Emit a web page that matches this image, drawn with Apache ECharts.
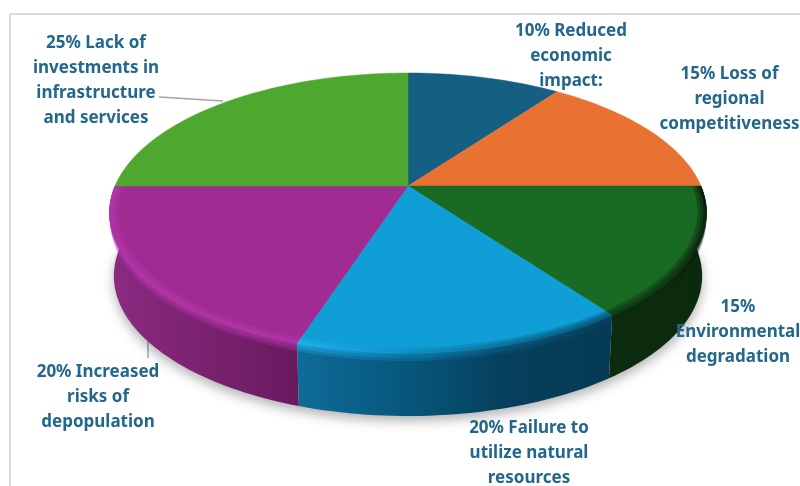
<!DOCTYPE html>
<html>
<head>
<meta charset="utf-8">
<style>html,body{margin:0;background:#fff}#chart{width:800px;height:486px}</style>
<script src="https://cdn.jsdelivr.net/npm/echarts@6/dist/echarts.min.js"></script>
</head>
<body>
<div id="chart"></div>
<script>
// shares the slices are actually drawn with, clockwise from 12 o'clock
const shares = [10, 15, 15, 15, 20, 25];
// the printed labels (the picture says 20% on the light blue slice, its angle says 15)
const labels = [
  "10% Reduced\neconomic\nimpact:",
  "15% Loss of\nregional\ncompetitiveness",
  "15%\nEnvironmental\ndegradation",
  "20% Failure to\nutilize natural\nresources",
  "20% Increased\nrisks of\ndepopulation",
  "25% Lack of\ninvestments in\ninfrastructure\nand services",
];
const topColors = ["#156082", "#e97132", "#196b24", "#0f9ed5", "#a02b93", "#4ea72e"];

// layout only
const labelPos = [[571, 56], [729.5, 99], [738, 332], [529, 453], [98, 397], [96, 80.5]];
// left to right colour stops of the front wall and of the bevel on its upper edge
const wallStops = {
  2: ["#0c2c0f", "#0b290d"],
  3: ["#0e6c99", "#07587e", "#063f5c", "#063a55"],
  4: ["#8c2a82", "#7a2270", "#681a5e"],
};
const rimStops = {
  2: ["#0a2c0e", "#0a2c0e", "#050f06"],
  3: ["#25b8f5", "#0e8fc4", "#0a5f87", "#06405e"],
  4: ["#b636ab", "#b636ab", "#b636ab"],
};
const rimInner = [0.97, 0.98, 0.99];
const rimOuter = [8, 5, 2];

// perspective view of the disc
const CX = 408, CY = 186, AX = 293, BY = 134.8, K = 0.193, DEPTH = 63;

function project(angle, r, depth) {
  const u = Math.sin(angle) * r, v = Math.cos(angle) * r;
  const w = 1 + K * v;
  const squeeze = 1 - 0.015 * depth / DEPTH;
  return [CX + AX * u / w * squeeze, CY - BY * v / w + depth];
}

function arcPoints(a0, a1, r, depth) {
  const n = Math.max(4, Math.ceil((a1 - a0) * 40));
  const pts = [];
  for (let i = 0; i <= n; i++) pts.push(project(a0 + (a1 - a0) * i / n, r, depth));
  return pts;
}

function band(a0, a1, r0, d0, r1, d1) {
  return arcPoints(a0, a1, r0, d0).concat(arcPoints(a0, a1, r1, d1).reverse());
}

function ramp(colors) {
  return new echarts.graphic.LinearGradient(0, 0, 1, 0, colors.map(function (c, i) {
    return { offset: i / (colors.length - 1), color: c };
  }));
}

const total = shares.reduce((a, b) => a + b, 0);
let acc = 0;
const pieData = shares.map(function (s) {
  const row = [s, acc];
  acc += s;
  return row;
});

function renderSlice(params, api) {
  const i = params.dataIndex;
  const a0 = api.value(1) / total * Math.PI * 2;
  const a1 = (api.value(1) + api.value(0)) / total * Math.PI * 2;
  const children = [];

  if (i === 0) {
    // soft shadow under the whole front wall
    children.push({
      type: "polygon", z2: 0, silent: true,
      shape: { points: arcPoints(Math.PI / 2, Math.PI * 1.5, 1, DEPTH - 3) },
      style: { fill: "#dddddd", shadowBlur: 12, shadowColor: "rgba(0,0,0,0.3)", shadowOffsetY: 8 },
    });
  }

  if (wallStops[i]) {
    children.push({
      type: "polygon", z2: 1,
      shape: { points: band(a0, a1, 1, 0, 1, DEPTH) },
      style: { fill: ramp(wallStops[i]) },
    });
  }

  children.push({
    type: "polygon", z2: 2,
    shape: { points: [[CX, CY]].concat(arcPoints(a0, a1, 1, 0)) },
    style: { fill: topColors[i], stroke: topColors[i], lineWidth: 0.5 },
  });

  if (rimStops[i]) {
    // bevel: stacked bands so the edge fades into the top face and into the wall
    rimInner.forEach(function (r, k) {
      children.push({
        type: "polygon", z2: 3,
        shape: { points: band(a0, a1, r, 0, 1, 0) },
        style: { fill: ramp(rimStops[i]), opacity: 0.3 + k * 0.05 },
      });
    });
    rimOuter.forEach(function (d, k) {
      children.push({
        type: "polygon", z2: 3,
        shape: { points: band(a0, a1, 1, 0, 1, d) },
        style: { fill: ramp(rimStops[i]), opacity: 0.3 + k * 0.05 },
      });
    });
  }

  children.push({
    type: "text", z2: 10, silent: true,
    style: {
      text: labels[i], x: labelPos[i][0], y: labelPos[i][1],
      align: "center", verticalAlign: "middle",
      fontFamily: "Noto Sans", fontWeight: 700, fontSize: 17, lineHeight: 25,
      fill: "#23678c",
    },
  });

  return { type: "group", children: children };
}

const chart = echarts.init(document.getElementById("chart"), null, { renderer: "canvas" });
chart.setOption({
  animation: false,
  backgroundColor: "#ffffff",
  graphic: [
    { type: "line", shape: { x1: 10, y1: 14, x2: 800, y2: 14 }, style: { stroke: "#d9d9d9", lineWidth: 2 } },
    { type: "line", shape: { x1: 10, y1: 14, x2: 10, y2: 486 }, style: { stroke: "#d9d9d9", lineWidth: 2 } },
    { type: "line", shape: { x1: 159, y1: 97, x2: 223, y2: 101 }, style: { stroke: "#a6a6a6", lineWidth: 1.5 } },
    { type: "line", shape: { x1: 148, y1: 341, x2: 148, y2: 358 }, style: { stroke: "#a6a6a6", lineWidth: 1.5 } },
  ],
  series: [{
    type: "custom",
    coordinateSystem: "none",
    renderItem: renderSlice,
    data: pieData,
  }],
});
</script>
</body>
</html>
